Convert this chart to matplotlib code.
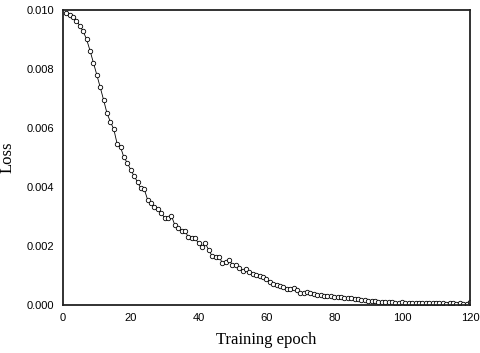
import matplotlib
matplotlib.use("Agg")
import matplotlib.pyplot as plt

# loss per epoch (1..120)
epochs = list(range(1, 121))
loss = [
    0.00991, 0.00983, 0.00975, 0.00964, 0.00946, 0.00927, 0.00900, 0.00862, 0.00821, 0.00780,
    0.00738, 0.00695, 0.00650, 0.00621, 0.00596, 0.00546, 0.00535, 0.00500, 0.00482, 0.00458,
    0.00437, 0.00417, 0.00395, 0.00392, 0.00356, 0.00345, 0.00333, 0.00324, 0.00313, 0.00294,
    0.00294, 0.00302, 0.00271, 0.00260, 0.00252, 0.00252, 0.00229, 0.00226, 0.00226, 0.00209,
    0.00198, 0.00209, 0.00186, 0.00166, 0.00164, 0.00164, 0.00143, 0.00147, 0.00153, 0.00136,
    0.00136, 0.00124, 0.00116, 0.00121, 0.00113, 0.00105, 0.00102, 0.00098, 0.00094, 0.00087,
    0.00079, 0.00071, 0.00068, 0.00064, 0.00060, 0.00053, 0.00053, 0.00056, 0.00051, 0.00042,
    0.00042, 0.00045, 0.00042, 0.00037, 0.00034, 0.00034, 0.00031, 0.00029, 0.00029, 0.00027,
    0.00027, 0.00027, 0.00023, 0.00023, 0.00023, 0.00020, 0.00020, 0.00017, 0.00017, 0.00015,
    0.00013, 0.00012, 0.00011, 0.00011, 0.00010, 0.00009, 0.00010, 0.00008, 0.00008, 0.00009,
    0.00008, 0.00007, 0.00008, 0.00007, 0.00007, 0.00008, 0.00006, 0.00007, 0.00006, 0.00006,
    0.00007, 0.00006, 0.00005, 0.00006, 0.00006, 0.00005, 0.00006, 0.00005, 0.00005, 0.00009,
]

xticks = [0, 20, 40, 60, 80, 100, 120]
yticks = [0.000, 0.002, 0.004, 0.006, 0.008, 0.010]

fig = plt.figure(figsize=(4.8, 3.53), dpi=100)
ax = fig.add_axes([0.131, 0.136, 0.848, 0.836])

ax.plot(epochs, loss, "o-", color="black", linewidth=0.6,
        markersize=3.2, markerfacecolor="white", markeredgecolor="black",
        markeredgewidth=0.6)

ax.set_xlim(0, 120)
ax.set_ylim(0, 0.010)
ax.set_xticks(xticks)
ax.set_yticks(yticks)
ax.set_yticklabels([f"{v:.3f}" for v in yticks])
ax.tick_params(length=0, pad=6, labelsize=8)
for lbl in ax.get_xticklabels() + ax.get_yticklabels():
    lbl.set_family("Liberation Sans")

for s in ax.spines.values():
    s.set_linewidth(1.3)
    s.set_color("#222222")

ax.set_xlabel("Training epoch", fontsize=12, family="Liberation Serif", labelpad=6)
ax.set_ylabel("Loss", fontsize=12, family="Liberation Serif", labelpad=8)

fig.savefig("out.png", dpi=100)
